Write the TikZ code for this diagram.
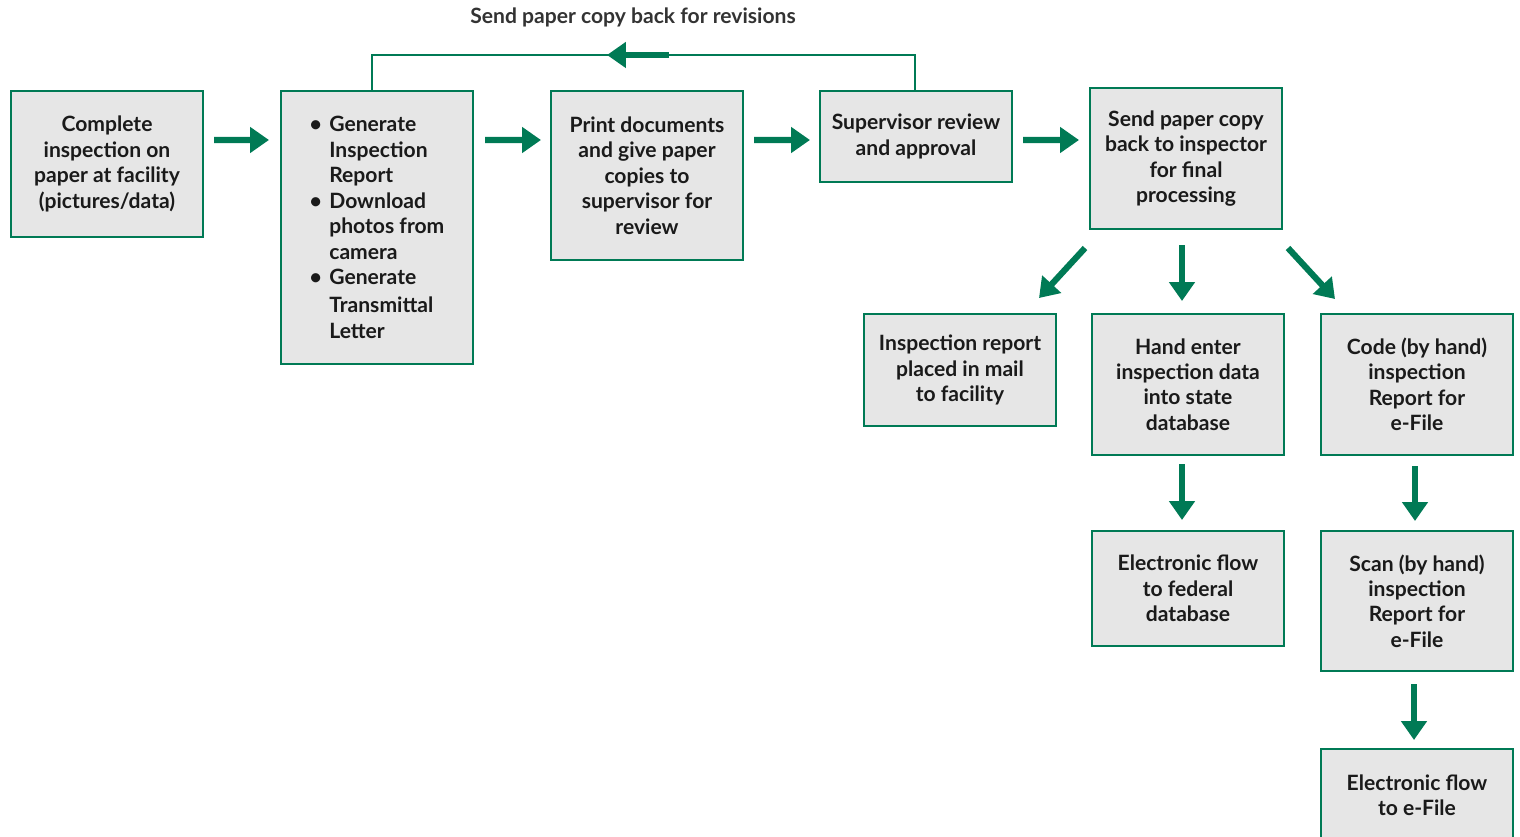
\documentclass[tikz,border=0pt]{standalone}
\usepackage{fontspec}
\setmainfont{Lato}
\usetikzlibrary{arrows.meta,calc,positioning}
\definecolor{FlowGreen}{HTML}{007A55}
\definecolor{BoxFill}{HTML}{E6E6E6}
\definecolor{InkDark}{HTML}{1A1A1A}
\definecolor{InkSoft}{HTML}{333333}
\newcommand{\bul}{\makebox[14pt][l]{\textbullet}}
\newcommand{\ind}{\hspace*{14pt}}

\begin{document}
\begin{tikzpicture}[x=0.025cm, y=-0.025cm,
  box/.style={draw=FlowGreen, fill=BoxFill, line width=1.4pt, minimum width=4.8cm, align=center, inner sep=2pt,
    font=\fontsize{15}{18.1}\selectfont\bfseries, text=InkDark},
  arr/.style={draw=FlowGreen, line width=0.155cm, -{Triangle[length=0.47cm, width=0.62cm]}},
  fb/.style={draw=FlowGreen, line width=1.1pt},
  lab/.style={font=\fontsize{15}{18.1}\selectfont\bfseries, text=InkSoft},
]
\useasboundingbox (0,0) rectangle (1520,836);
% ---------------- top row
\node[box, minimum height=3.65cm] (A) at (107,164) {Complete\\ inspection on\\ paper at facility\\ (pictures/data)};
\node[box, minimum height=6.825cm, align=left] (B) at (377,227.5)
  {\bul Generate\\ \ind Inspection\\ \ind Report\\ \bul Download\\ \ind photos from\\ \ind camera\\ \bul Generate\\[2pt] \ind Transmittal\\ \ind Letter};
\node[box, minimum height=4.225cm] (C) at (647,175.5) {Print documents\\ and give paper\\ copies to\\ supervisor for\\ review};
\node[box, minimum height=2.275cm] (D) at (916,136.5) {Supervisor review\\ and approval};
\node[box, minimum height=3.525cm] (E) at (1186,158.5) {Send paper copy\\ back to inspector\\ for final\\ processing};
\draw[arr] ($(A.north east)+(10,50)$) -- ($(B.north west)+(-11,50)$);
\draw[arr] ($(B.north east)+(11,50)$) -- ($(C.north west)+(-9,50)$);
\draw[arr] ($(C.north east)+(10,50)$) -- ($(D.north west)+(-9,50)$);
\draw[arr] ($(D.north east)+(10,50)$) -- ($(E.north west)+(-10,53)$);
% ---------------- revisions loop
\draw[fb] ($(B.north)+(-5,0)$) -- ++(0,-35) coordinate (fbL) -| ($(D.north)+(-1,0)$);
\draw[arr] ($(fbL)+(297,0)$) -- ($(fbL)+(235,0)$);
\node[lab] (rev) at (633,17) {Send paper copy back for revisions};
% ---------------- final processing
\node[box, minimum height=2.8cm] (F) at (960,370) {Inspection report\\ placed in mail\\ to facility};
\node[box, minimum height=3.525cm] (G) at (1188,384.5) {Hand enter\\ inspection data\\ into state\\ database};
\node[box, minimum height=3.525cm] (H) at (1417,384.5) {Code (by hand)\\ inspection\\ Report for\\ e-File};
\draw[arr] ($(E.south)+(-101,18)$) -- ($(F.north east)+(-18,-15)$);
\draw[arr] ($(E.south)+(-4,15)$) -- ($(G.north)+(-6,-12)$);
\draw[arr] ($(E.south)+(102,18)$) -- ($(H.north west)+(15,-14)$);
% ---------------- electronic flows
\node[box, minimum height=2.875cm] (I) at (1188,588.5) {Electronic flow\\ to federal\\ database};
\node[box, minimum height=3.5cm] (J) at (1417,601) {Scan (by hand)\\ inspection\\ Report for\\ e-File};
\node[box, minimum height=2.3cm] (K) at (1417,795) {Electronic flow\\ to e-File};
\draw[arr] ($(G.south)+(-6,8)$) -- ($(I.north)+(-6,-10)$);
\draw[arr] ($(H.south)+(-2,10)$) -- ($(J.north)+(-2,-9)$);
\draw[arr] ($(J.south)+(-3,12)$) -- ($(K.north)+(-3,-8)$);
\end{tikzpicture}
\end{document}
